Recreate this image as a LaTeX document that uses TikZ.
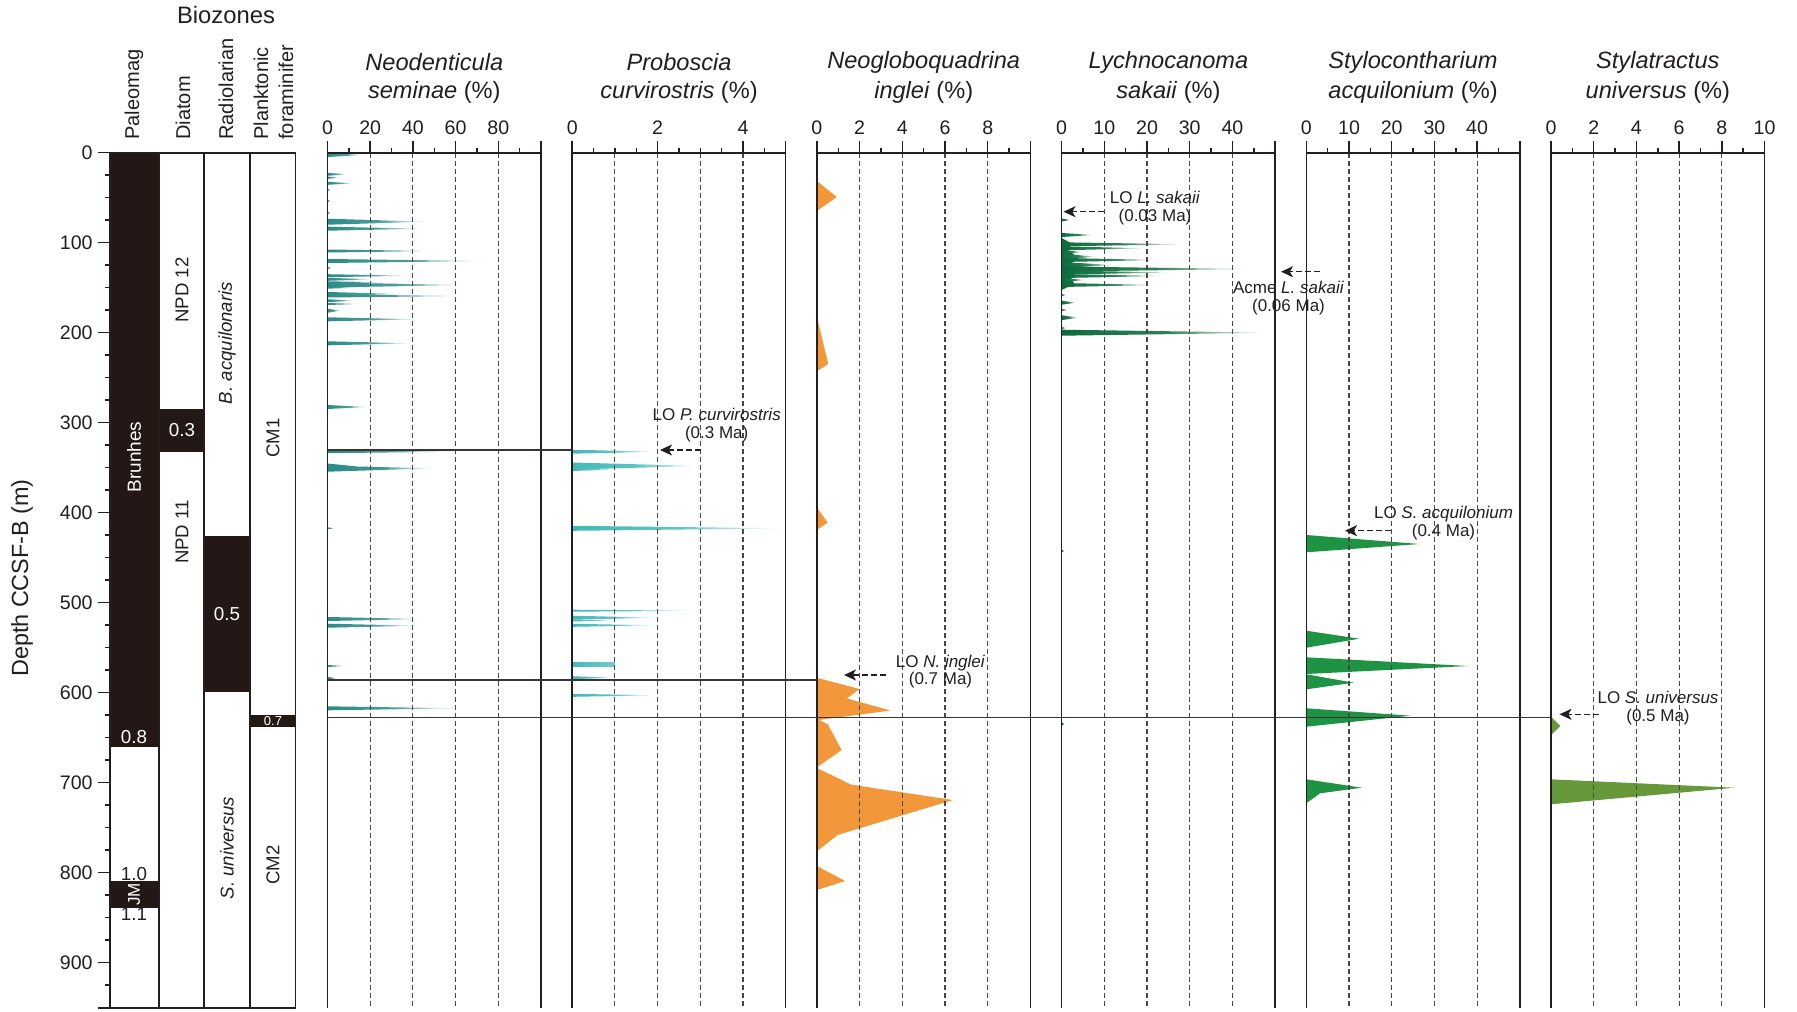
\documentclass[tikz,border=0pt]{standalone}
\usepackage{fontspec}
\setmainfont{Liberation Sans}
\usetikzlibrary{arrows.meta}
\definecolor{ink}{HTML}{231F20}
\definecolor{zblack}{HTML}{231815}
\definecolor{cNeo}{HTML}{2A8C88}
\definecolor{cPro}{HTML}{43B9B9}
\definecolor{cNgl}{HTML}{F2983A}
\definecolor{cLyc}{HTML}{0B6B3B}
\definecolor{cSty}{HTML}{1E9343}
\definecolor{cStu}{HTML}{67983A}
\definecolor{gridc}{HTML}{484848}
\newcommand\spk[4]{\shade[left color=#1,right color=white,middle color=#1!85!white] (0,#2-#4) -- (#3,#2) -- (0,#2+#4) -- cycle;}
\newcommand\pgrid[1]{\foreach \i in {2,4,6,8} {\draw[gridline] (#1+\i*21.35,153) -- (#1+\i*21.35,1008);}}
\newcommand\pframe[3]{%
 \draw[frameline] (#1,1008) -- (#1,153) -- (#1+213.5,153) -- (#1+213.5,1008);
 \foreach \i in {0,...,10} {\draw[frameline] (#1+\i*21.35,153) -- ++(0,-5);}
 \foreach \i in {#2} {\draw[frameline] (#1+\i*21.35,153) -- ++(0,-12);}
 \foreach \i/\lab in {#3} {\node[ticklab] at (#1+\i*21.35,128) {\lab};}}
\begin{document}
\begin{tikzpicture}[x=0.5pt,y=-0.5pt,
  every node/.style={text=ink, inner sep=0pt},
  title/.style={font=\fontsize{11.8}{13}\selectfont\itshape},
  ticklab/.style={font=\fontsize{9.8}{11}\selectfont},
  zhead/.style={font=\fontsize{10}{12}\selectfont, rotate=90, anchor=base west},
  zin/.style={font=\fontsize{9.3}{11}\selectfont, rotate=90},
  zwhite/.style={text=white},
  annot/.style={font=\fontsize{8.5}{8.9}\selectfont, align=center},
  gridline/.style={draw=gridc, dash pattern=on 2.5pt off 1.5pt, line width=0.55pt},
  frameline/.style={draw=ink, line width=0.75pt},
  corr/.style={draw=ink!90, line width=0.6pt},
  lo/.style={draw=ink, line width=0.65pt, dash pattern=on 2.8pt off 1.7pt, -{Stealth[length=6pt,width=5.5pt,inset=1.6pt]}}]
\fill[white] (0,0) rectangle (1797,1011);
\useasboundingbox (0,0) rectangle (1797,1011);

% ---------- depth axis ----------
\node[font=\fontsize{11.7}{13}\selectfont, rotate=90] (dlab) at (22,578) {Depth CCSF-B (m)};
\draw[frameline] (110,153) -- (110,1008);
\foreach \dd in {0,100,...,900} {
  \draw[frameline] (98,{152.5+0.9*\dd}) -- (110,{152.5+0.9*\dd});
  \node[ticklab, anchor=east] at (93,{152.5+0.9*\dd}) {\dd};}
\foreach \dd in {25,50,75,125,150,175,225,250,275,325,350,375,425,450,475,525,550,575,625,650,675,725,750,775,825,850,875,925} {
  \draw[frameline] (105,{152.5+0.9*\dd}) -- (110,{152.5+0.9*\dd});}
\draw[frameline] (98,1008) -- (296,1008);

% ---------- biozones ----------
\node[font=\fontsize{11.9}{13}\selectfont] (bz) at (226,15) {Biozones};
\node[zhead] (hp) at (139,140) {Paleomag};
\node[zhead] (hd) at (190,140) {Diatom};
\node[zhead] (hr) at (233,140) {Radiolarian};
\node[zhead] (hf1) at (268,140) {Planktonic};
\node[zhead] (hf2) at (293,140) {foraminifer};

\fill[zblack] (110,153) rectangle (158.3,746.7);
\fill[zblack] (110,881) rectangle (158.3,907.7);
\fill[zblack] (159.5,409) rectangle (204,452);
\fill[zblack] (204,535.7) rectangle (250,691.7);
\fill[zblack] (250,715) rectangle (295.7,726.7);
\draw[frameline] (110,153) rectangle (158.3,1008);
\draw[frameline] (159.5,153) rectangle (204,1008);
\draw[frameline] (204,153) rectangle (250,1008);
\draw[frameline] (250,153) rectangle (295.7,1008);

\node[zin, zwhite, font=\fontsize{9.5}{11}\selectfont] (brun) at (134,457) {Brunhes};
\node[font=\fontsize{9.4}{11}\selectfont, zwhite] (p08) at (134,737) {0.8};
\node[font=\fontsize{9.4}{11}\selectfont] (p10) at (134,874.5) {1.0};
\node[zin, zwhite, font=\fontsize{8.5}{10}\selectfont] (jm) at (134,894.5) {JM};
\node[font=\fontsize{9.4}{11}\selectfont] (p11) at (134,914.5) {1.1};
\node[zin] (npd12) at (182,290) {NPD 12};
\node[font=\fontsize{9.4}{11}\selectfont, zwhite] (d03) at (182,430.5) {0.3};
\node[zin] (npd11) at (182,532) {NPD 11};
\node[zin] (bacq) at (227,343) {\itshape B. acquilonaris};
\node[font=\fontsize{9.4}{11}\selectfont, zwhite] (r05) at (227,614) {0.5};
\node[zin] (suni) at (227,848) {\itshape S. universus};
\node[zin] (cm1) at (273,438) {CM1};
\node[font=\fontsize{6.5}{7}\selectfont, zwhite] (f07) at (273,721) {0.7};
\node[zin] (cm2) at (273,865) {CM2};

% ---------- titles ----------
\node[title] (t1a) at (434.3,62) {Neodenticula};
\node[title] (t1b) at (434.3,92) {seminae \textup{(\%)}};
\node[title] (t2a) at (679,62) {Proboscia};
\node[title] (t2b) at (679,92) {curvirostris \textup{(\%)}};
\node[title] (t3a) at (923.7,62) {Neogloboquadrina};
\node[title] (t3b) at (923.7,92) {inglei \textup{(\%)}};
\node[title] (t4a) at (1168.4,62) {Lychnocanoma};
\node[title] (t4b) at (1168.4,92) {sakaii \textup{(\%)}};
\node[title] (t5a) at (1413,62) {Stylocontharium};
\node[title] (t5b) at (1413,92) {acquilonium \textup{(\%)}};
\node[title] (t6a) at (1657.8,62) {Stylatractus};
\node[title] (t6b) at (1657.8,92) {universus \textup{(\%)}};

% ---------- data ----------
\begin{scope}[shift={(327.5,0)}, xscale=2.135]
 \foreach \yy/\vv/\hh in {155/17/2,174.3/9/1.5,177.7/5/1.2,183.3/12/1.5,190/1.5/1,201/1.5/1,213/1.5/1,
   221.7/47/3,228.7/46/2,251/52/1.5,261/75/2,268/2/1,275.7/39/1.5,279.3/21/1.5,282.3/28/1,285/65/2.5,
   287.7/13/1,294/36/2,296/66/1.5,300.7/12/1.5,304/15/1,310.7/6/2,319.3/43/2,343.3/40/2,407/19/2,
   451.7/60/1.5,528.3/3/1,619/46/2,625.7/43/2,666/8/1,678.3/4/1.5,708.3/62/2}
   {\spk{cNeo}{\yy}{\vv}{\hh}}
 \shade[left color=cNeo,right color=white,middle color=cNeo!90!white] (0,463.5) -- (14,466.5) -- (50,468.3) -- (0,471.7) -- cycle;
\end{scope}
\begin{scope}[shift={(572.2,0)}, xscale=42.7]
 \foreach \yy/\vv/\hh in {451.7/2/2,466/3/3.5,469.5/1/1.5,528.3/5/2.5,610.7/3/1,617.7/2/2,620.5/1/1,
   625.3/2/1.5,677.7/1/1.5,695.3/2/1.5}
   {\spk{cPro}{\yy}{\vv}{\hh}}
 \shade[left color=cPro,right color=cPro!75!white] (0,662) rectangle (1.0,666.5);
\end{scope}
\begin{scope}[shift={(816.9,0)}, xscale=21.35]
 \fill[cNgl] (0,181) -- (0.93,197) -- (0,211) -- cycle;
 \fill[cNgl] (0,317) -- (0.53,364) -- (0,371.3) -- cycle;
 \fill[cNgl] (0,507.5) -- (0.5,522.5) -- (0,530) -- cycle;
 \fill[cNgl] (0,677.8) -- (2.0,689) -- (1.4,698.4) -- (3.44,710.5) -- (0.1,720) -- (0.5,724) -- (1.16,750) -- (0,767.4) -- cycle;
 \fill[cNgl] (0,768) -- (1.6,784.6) -- (6.37,800) -- (0.97,835) -- (0,851.3) -- cycle;
 \fill[cNgl] (0,866) -- (1.32,881) -- (0,890) -- cycle;
\end{scope}
\begin{scope}[shift={(1061.6,0)}, xscale=4.27]
 \fill[cLyc] (0,238) -- (2.5,244) -- (1.5,250) -- (4,258) -- (2,264) -- (5,270) -- (2,276) -- (3,284) -- (0,290) -- cycle;
 \foreach \yy/\vv/\hh in {220/2/1.5,235/7.6/2,244.3/29.5/2,248.3/19.7/2,252/5/2,256.7/8/3,260/23.6/2,
   265/12/3,269/45/2.5,272.5/26/2,276/24.4/2,280/5.7/2,285/22.8/2,295/1/1,302.7/3.3/2,310/1.4/1,
   317.7/3.7/2.5,328/1/1,332.7/49/3,551/0.6/1.5,724/0.6/2}
   {\spk{cLyc}{\yy}{\vv}{\hh}}
\end{scope}
\begin{scope}[shift={(1306.3,0)}, xscale=4.27]
 \fill[cSty] (0,535) -- (26.5,544) -- (0,552.3) -- cycle;
 \fill[cSty] (0,630.7) -- (12.4,638.7) -- (0,647.7) -- cycle;
 \fill[cSty] (0,657.3) -- (37.9,666) -- (0,674) -- cycle;
 \fill[cSty] (0,674.3) -- (11.1,682.7) -- (0,689.3) -- cycle;
 \fill[cSty] (0,708.3) -- (24.4,715.7) -- (0,726.7) -- cycle;
 \fill[cSty] (0,779.3) -- (13,787.7) -- (3.2,793.3) -- (0,803.3) -- cycle;
\end{scope}
\begin{scope}[shift={(1551,0)}, xscale=21.35]
 \fill[cStu] (0,716.7) -- (0.44,726) -- (0,735) -- cycle;
 \fill[cStu] (0,779.3) -- (8.6,787.7) -- (0,804.3) -- cycle;
\end{scope}

% ---------- grids and frames ----------
\pgrid{327.5}\pgrid{572.2}\pgrid{816.9}\pgrid{1061.6}\pgrid{1306.3}\pgrid{1551}
\pframe{327.5}{0,2,4,6,8,10}{0/0,2/20,4/40,6/60,8/80}
\pframe{572.2}{0,4,8,10}{0/0,4/2,8/4}
\pframe{816.9}{0,2,4,6,8,10}{0/0,2/2,4/4,6/6,8/8}
\pframe{1061.6}{0,2,4,6,8,10}{0/0,2/10,4/20,6/30,8/40}
\pframe{1306.3}{0,2,4,6,8,10}{0/0,2/10,4/20,6/30,8/40}
\pframe{1551}{0,2,4,6,8,10}{0/0,2/2,4/4,6/6,8/8,10/10}

% ---------- correlation lines ----------
\coordinate (c1a) at (327.5,450);   \coordinate (c1b) at (572.2,450);
\coordinate (c2a) at (327.5,680);   \coordinate (c2b) at (816.9,680);
\coordinate (c3a) at (327.5,717.3); \coordinate (c3b) at (1551,717.3);
\draw[corr] (c1a) -- (c1b);
\draw[corr] (c2a) -- (c2b);
\draw[corr] (c3a) -- (c3b);

% ---------- annotations ----------
\node[annot] (aP) at (716.7,424.7) {LO \textit{P. curvirostris}\\(0.3 Ma)};
\coordinate (aPs) at (701,450); \coordinate (aPe) at (660,450);
\draw[lo] (aPs) -- (aPe);
\node[annot] (aN) at (940.5,671.5) {LO \textit{N. inglei}\\(0.7 Ma)};
\coordinate (aNs) at (886,675); \coordinate (aNe) at (844,675);
\draw[lo] (aNs) -- (aNe);
\node[annot] (aL) at (1155,208.3) {LO \textit{L. sakaii}\\(0.03 Ma)};
\coordinate (aLs) at (1104,211.7); \coordinate (aLe) at (1063.5,211.7);
\draw[lo] (aLs) -- (aLe);
\node[annot] (aA) at (1288.5,298) {Acme \textit{L. sakaii}\\(0.06 Ma)};
\coordinate (aAs) at (1320,271.7); \coordinate (aAe) at (1281,271.7);
\draw[lo] (aAs) -- (aAe);
\node[annot] (aS) at (1443.5,522.7) {LO \textit{S. acquilonium}\\(0.4 Ma)};
\coordinate (aSs) at (1391,530.7); \coordinate (aSe) at (1345,530.7);
\draw[lo] (aSs) -- (aSe);
\node[annot] (aU) at (1658,708.3) {LO \textit{S. universus}\\(0.5 Ma)};
\coordinate (aUs) at (1599,714.3); \coordinate (aUe) at (1559.5,714.3);
\draw[lo] (aUs) -- (aUe);
\end{tikzpicture}
\end{document}
